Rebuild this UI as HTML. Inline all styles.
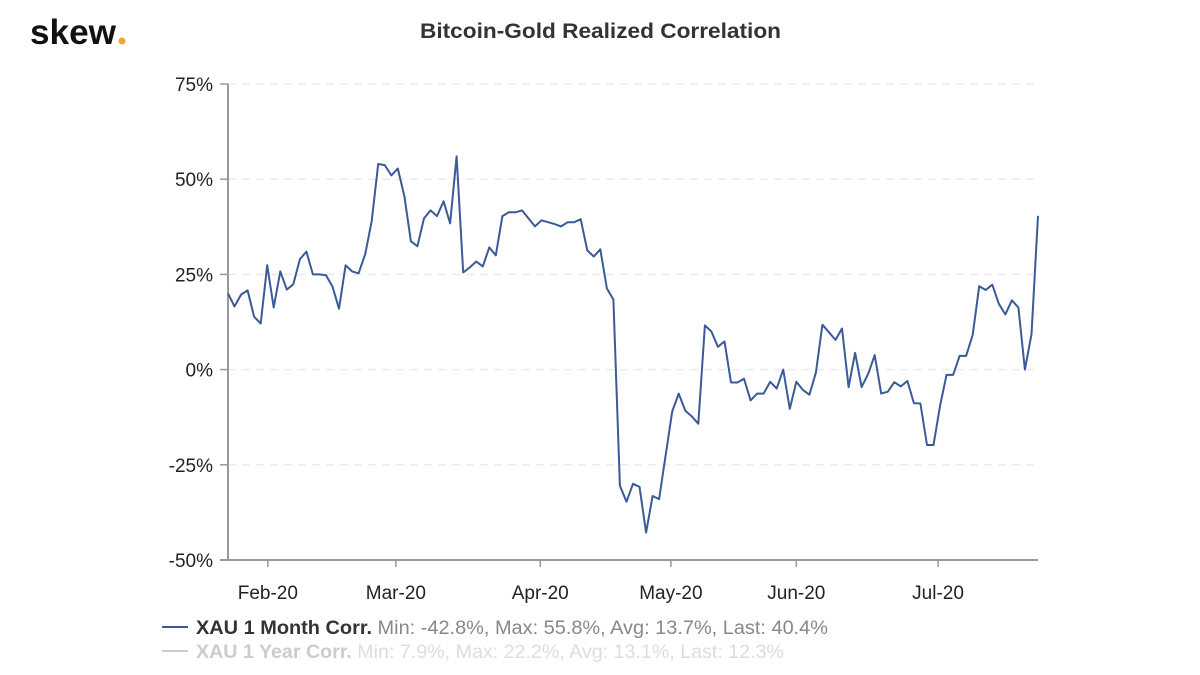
<!DOCTYPE html>
<html><head><meta charset="utf-8"><style>
body{margin:0;background:#fff;width:1200px;height:670px;overflow:hidden;font-family:"Liberation Sans",sans-serif}
</style></head><body>
<svg id="chart" width="1200" height="670" xmlns="http://www.w3.org/2000/svg">
<g>
<text x="30" y="44" font-size="35" font-weight="bold" fill="#111" textLength="86" lengthAdjust="spacingAndGlyphs">skew</text>
<circle cx="122" cy="41" r="3.5" fill="#f0a830"/>
</g>
<text x="420" y="38" font-size="21" font-weight="bold" fill="#333" textLength="361" lengthAdjust="spacingAndGlyphs">Bitcoin-Gold Realized Correlation</text>
<g id="grid"></g><g id="axes"></g><g id="series"></g>
<g>
<line x1="162" y1="627" x2="188" y2="627" stroke="#3a5a98" stroke-width="2"/>
<text x="196" y="634" font-size="19" textLength="632" lengthAdjust="spacingAndGlyphs"><tspan font-weight="bold" fill="#333">XAU 1 Month Corr.</tspan><tspan fill="#888"> Min: -42.8%, Max: 55.8%, Avg: 13.7%, Last: 40.4%</tspan></text>
<line x1="162" y1="651" x2="188" y2="651" stroke="#ccc" stroke-width="2"/>
<text x="196" y="658" font-size="19" textLength="588" lengthAdjust="spacingAndGlyphs"><tspan font-weight="bold" fill="#ccc">XAU 1 Year Corr.</tspan><tspan fill="#ddd"> Min: 7.9%, Max: 22.2%, Avg: 13.1%, Last: 12.3%</tspan></text>
</g>
</svg>
<script>
const values=[20,16.6,19.7,20.8,13.9,12.1,27.4,16.3,25.8,21,22.4,29,31,25,25,24.8,21.8,16,27.4,25.8,25.3,30.3,39,54,53.7,51,52.8,45.5,33.7,32.4,39.7,41.8,40.3,44.2,38.4,56,25.5,26.8,28.4,27.1,32.1,30,
40.3,41.3,41.3,41.8,39.7,37.6,39.2,38.7,38.2,37.6,38.7,38.7,39.5,31.3,29.7,31.6,21.3,18.4,-30.5,-34.7,-30,-30.8,-42.8,-33.2,-34,-22.4,-11,-6.3,-10.8,-12.3,-14.2,11.6,10,6,7.4,-3.4,-3.4,-2.4,-8.1,-6.3,
-6.3,-3.2,-5,0,-10.3,-3.2,-5.3,-6.6,-0.8,11.8,9.8,7.8,10.8,-4.6,4.4,-4.6,-1.1,3.8,-6.3,-5.8,-3.3,-4.4,-3,-8.8,-8.9,-19.8,-19.8,-9.6,-1.4,-1.4,3.6,3.6,9.1,21.9,20.9,22.3,17.3,14.5,18.2,16.3,0,9.3,40.4];
const xTickLabels=["Feb-20","Mar-20","Apr-20","May-20","Jun-20","Jul-20"];
const xTickIdx=[6.1,25.7,47.8,67.8,87,108.7];
const yTicks=[75,50,25,0,-25,-50];
const NS="http://www.w3.org/2000/svg";
const L=228,R=1038,T=84,B=560;
const x=i=>L+i*(R-L)/(values.length-1);
const y=v=>B-(v+50)*(B-T)/125;
function mk(tag,attrs,parent,txt){const e=document.createElementNS(NS,tag);for(const k in attrs)e.setAttribute(k,attrs[k]);if(txt!==undefined)e.textContent=txt;document.getElementById(parent).appendChild(e);return e;}
yTicks.forEach(v=>{
 if(v>-50){const g=mk('line',{x1:L,x2:R,y1:y(v),y2:y(v),stroke:'#ebebeb','stroke-width':1.5,'stroke-dasharray':'8,6'},'grid');
 
 }
 const t=mk('line',{x1:L-8,x2:L,y1:y(v),y2:y(v),stroke:'#999','stroke-width':1.5},'axes');
 
 
 const l=mk('text',{x:213,y:y(v)+7,'text-anchor':'end','font-size':19,fill:'#222'},'axes',v+'%');
 
 
});
const ya=mk('line',{x1:L,x2:L,y1:T,y2:B,stroke:'#999','stroke-width':2},'axes');


const xa=mk('line',{x1:L-8,x2:R,y1:B,y2:B,stroke:'#999','stroke-width':2},'axes');


xTickIdx.forEach((ix,k)=>{
 const t=mk('line',{x1:x(ix),x2:x(ix),y1:B,y2:B+7,stroke:'#999','stroke-width':1.5},'axes');
 
 
 const l=mk('text',{x:x(ix),y:B+39,'text-anchor':'middle','font-size':19,fill:'#222'},'axes',xTickLabels[k]);
 
 
});
const p=mk('polyline',{points:values.map((v,i)=>x(i).toFixed(1)+','+y(v).toFixed(1)).join(' '),fill:'none',stroke:'#3a5a98','stroke-width':2,'stroke-linejoin':'round'},'series');


</script>
</body></html>
